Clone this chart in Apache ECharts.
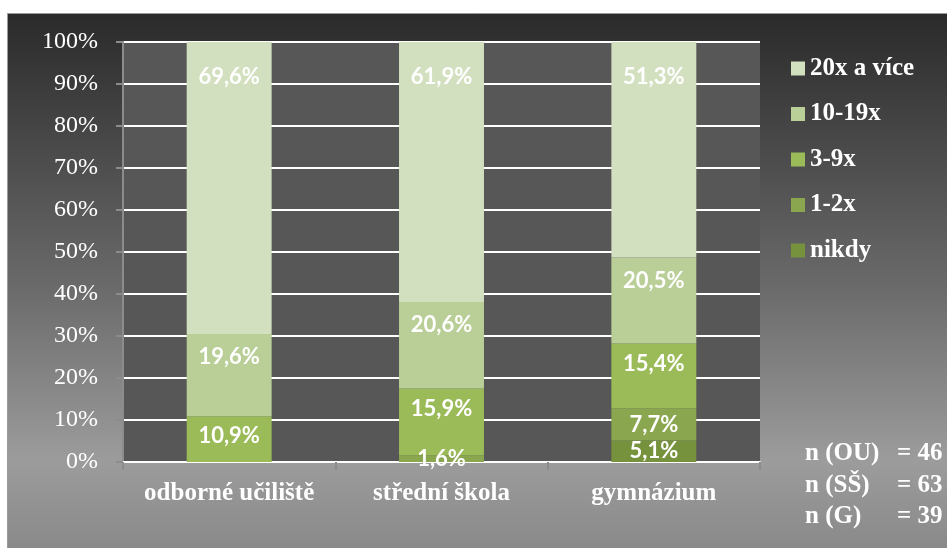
<!DOCTYPE html>
<html>
<head>
<meta charset="utf-8">
<script src="https://cdn.jsdelivr.net/npm/echarts@6/dist/echarts.min.js"></script>
<style>
  html, body { margin: 0; padding: 0; background: #ffffff; }
  #chart { width: 947px; height: 548px; }
</style>
</head>
<body>
<div id="chart"></div>
<script>
// School types along the horizontal axis
const categories = ['odborné učiliště', 'střední škola', 'gymnázium'];

// Share of respondents (%) per frequency band, stacked from the bottom
const nikdy      = [0, 0, 5.1];
const x1to2      = [0, 1.6, 7.7];
const x3to9      = [10.9, 15.9, 15.4];
const x10to19    = [19.6, 20.6, 20.5];
const x20plus    = [69.6, 61.9, 51.3];

const seriesNames = ['nikdy', '1-2x', '3-9x', '10-19x', '20x a více'];
const seriesData  = [nikdy, x1to2, x3to9, x10to19, x20plus];
const seriesColors = ['#76923c', '#8aa64f', '#9bbb59', '#b9cf97', '#d3e0c0'];

// Percentage tick labels on the value axis
const yTicks = [0, 10, 20, 30, 40, 50, 60, 70, 80, 90, 100];

// Sample sizes shown in the lower-right note
const sampleLabels = ['n (OU)', 'n (SŠ)', 'n (G)'];
const sampleSizes  = [46, 63, 39];

const chart = echarts.init(document.getElementById('chart'));

const serif = 'Liberation Serif';

// Value labels sit near the top of the taller segments, centred in the thin ones
const labelPlacement = [
  { position: 'inside' },
  { position: 'inside' },
  { position: 'insideTop', distance: 9 },
  { position: 'insideTop', distance: 12 },
  { position: 'insideTop', distance: 24 }
];

const series = seriesNames.map((name, i) => ({
  name: name,
  type: 'bar',
  stack: 'total',
  barWidth: '40%',
  data: seriesData[i],
  itemStyle: { color: seriesColors[i] },
  label: Object.assign({
    show: true,
    color: '#ffffff',
    fontFamily: 'Lato',
    fontWeight: 'bold',
    fontSize: 22,
    formatter: p => p.value > 0 ? p.value.toFixed(1).replace('.', ',') + '%' : ''
  }, labelPlacement[i])
}));

const noteElements = [];
sampleLabels.forEach((lab, i) => {
  const y = 454 + i * 31.5;
  noteElements.push({
    type: 'text', x: 805, y: y, z: 10,
    style: { text: lab, fill: '#ffffff', fontFamily: serif, fontWeight: 'bold', fontSize: 25, verticalAlign: 'middle' }
  });
  noteElements.push({
    type: 'text', x: 897, y: y, z: 10,
    style: { text: '= ' + sampleSizes[i], fill: '#ffffff', fontFamily: serif, fontWeight: 'bold', fontSize: 25, verticalAlign: 'middle' }
  });
});

chart.setOption({
  animation: false,
  backgroundColor: '#ffffff',
  graphic: {
    elements: [
      {
        type: 'rect', z: -100,
        shape: { x: 7.5, y: 13.5, width: 950, height: 545 },
        style: {
          fill: new echarts.graphic.LinearGradient(0, 0, 0, 1, [
            { offset: 0, color: '#2a2a2a' },
            { offset: 0.5, color: '#6a6a6a' },
            { offset: 0.82, color: '#9c9c9c' },
            { offset: 1, color: '#878787' }
          ]),
          stroke: '#9a9a9a',
          lineWidth: 1
        }
      }
    ].concat(noteElements)
  },
  grid: {
    left: 123, right: 187, top: 42, bottom: 86,
    show: true, backgroundColor: '#575757', borderWidth: 0
  },
  legend: {
    orient: 'vertical',
    left: 786,
    top: 51,
    data: ['20x a více', '10-19x', '3-9x', '1-2x', 'nikdy'],
    icon: 'rect',
    itemWidth: 14,
    itemHeight: 14,
    itemGap: 20.5,
    textStyle: { color: '#ffffff', fontFamily: serif, fontWeight: 'bold', fontSize: 25, lineHeight: 22 }
  },
  xAxis: {
    type: 'category',
    data: categories,
    axisLine: { show: true, lineStyle: { color: '#ffffff', width: 2 } },
    axisTick: { show: true, alignWithLabel: false, length: 8, lineStyle: { color: '#8c8c8c', width: 2 } },
    axisLabel: { color: '#ffffff', fontFamily: serif, fontWeight: 'bold', fontSize: 25, margin: 19, interval: 0, hideOverlap: false }
  },
  yAxis: {
    type: 'value',
    min: 0, max: 100, interval: 10,
    axisLine: { show: true, lineStyle: { color: '#8c8c8c', width: 2 } },
    axisTick: { show: true, length: 7, lineStyle: { color: '#8c8c8c', width: 2 } },
    splitLine: { show: true, lineStyle: { color: '#ffffff', width: 2 } },
    axisLabel: {
      color: '#ffffff', fontFamily: serif, fontSize: 24, margin: 25,
      formatter: v => yTicks.includes(v) ? v + '%' : ''
    }
  },
  series: series
});
</script>
</body>
</html>
